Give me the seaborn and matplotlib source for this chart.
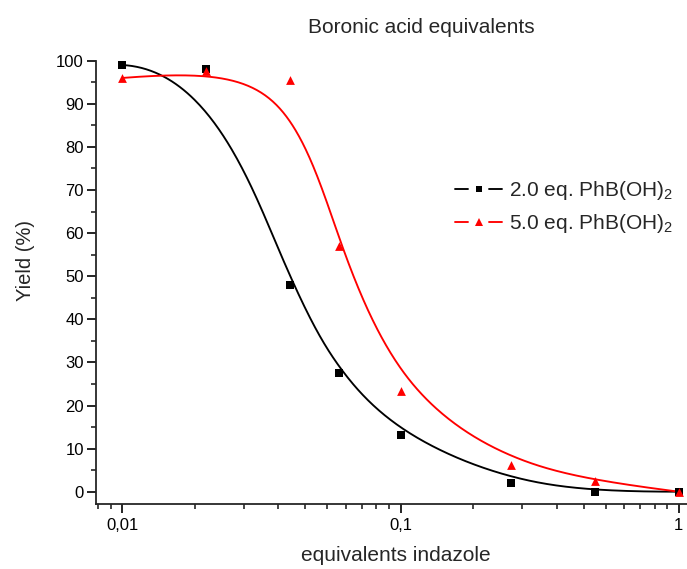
import numpy as np
import matplotlib
matplotlib.use("Agg")
import matplotlib.pyplot as plt
import seaborn as sns
from matplotlib.ticker import FixedLocator, FixedFormatter, MultipleLocator, NullFormatter
from matplotlib.lines import Line2D
from matplotlib.legend_handler import HandlerBase

# ---- data ----
equiv = [0.01, 0.02, 0.04, 0.06, 0.1, 0.25, 0.5, 1.0]
yield_2eq = [99.0, 98.0, 48.0, 27.5, 13.2, 2.1, 0.0, 0.0]
yield_5eq = [96.0, 97.5, 95.5, 57.0, 23.4, 6.2, 2.5, 0.0]
series_labels = ["2.0 eq. PhB(OH)$_2$", "5.0 eq. PhB(OH)$_2$"]
x_major_ticks = [0.01, 0.1, 1.0]
x_major_labels = ["0,01", "0,1", "1"]
x_minor_ticks = [0.0082, 0.0091, 0.0182, 0.0273, 0.0364, 0.0455, 0.0546, 0.0637,
                 0.0728, 0.0819, 0.091, 0.182, 0.273, 0.364, 0.455, 0.546, 0.637,
                 0.728, 0.819, 0.91]

sns.set_style("ticks")
plt.rcParams["font.family"] = ["Liberation Sans", "DejaVu Sans"]
plt.rcParams["mathtext.default"] = "regular"
plt.rcParams["axes.linewidth"] = 1.3


def bspline(xc, yc, n=500):
    """Clamped uniform cubic B-spline with the data as control points (log-x space)."""
    k = 3
    m = len(xc)
    t = np.concatenate([np.zeros(k), np.arange(m - k + 1), np.full(k, m - k)]).astype(float)
    u = np.linspace(0, m - k, n)
    B = np.zeros((len(t) - 1, n))
    for i in range(len(t) - 1):
        B[i] = (t[i] <= u) & (u < t[i + 1])
    last = np.where(t[:-1] < t[1:])[0][-1]
    B[last, u >= t[-1]] = 1.0
    for p in range(1, k + 1):
        Bn = np.zeros((len(t) - 1 - p, n))
        for i in range(len(t) - 1 - p):
            d1 = t[i + p] - t[i]
            d2 = t[i + p + 1] - t[i + 1]
            a = (u - t[i]) / d1 * B[i] if d1 > 0 else 0.0
            b = (t[i + p + 1] - u) / d2 * B[i + 1] if d2 > 0 else 0.0
            Bn[i] = a + b
        B = Bn
    lx = np.log10(np.asarray(xc, float))
    return 10 ** (B.T @ lx), B.T @ np.asarray(yc, float)


fig = plt.figure(figsize=(6.87, 5.69), dpi=100)
ax = fig.add_axes([0.1393, 0.1148, 0.8607, 0.7785])
ax.set_xscale("log")

colors = ["#000000", "#ff0000"]
markers = ["s", "^"]
msizes = [26, 40]
for ys, c, mk, s in zip([yield_2eq, yield_5eq], colors, markers, msizes):
    sx, sy = bspline(equiv, ys)
    sns.lineplot(x=sx, y=sy, ax=ax, color=c, lw=1.35, sort=False, estimator=None)
    sns.scatterplot(x=equiv, y=ys, ax=ax, color=c, marker=mk, s=s, linewidth=0,
                    clip_on=False, zorder=5)

ax.set_xlim(0.00802, 1.0707)
ax.set_ylim(-2.78, 100)
sns.despine(ax=ax)

ax.xaxis.set_major_locator(FixedLocator(x_major_ticks))
ax.xaxis.set_major_formatter(FixedFormatter(x_major_labels))
ax.xaxis.set_minor_locator(FixedLocator(x_minor_ticks))
ax.xaxis.set_minor_formatter(NullFormatter())
ax.yaxis.set_major_locator(MultipleLocator(10))
ax.yaxis.set_minor_locator(MultipleLocator(5))

ax.tick_params(axis="both", which="major", direction="out", length=6.5, width=1.2,
               labelsize=12, colors="black")
ax.tick_params(axis="both", which="minor", direction="out", length=3.6, width=1.2)
ax.tick_params(axis="y", which="major", pad=2)
ax.tick_params(axis="x", which="major", pad=4)

ax.set_xlabel("equivalents indazole", fontsize=15, va="baseline")
ax.xaxis.set_label_coords(0.508, -0.1293)
ax.set_ylabel("Yield (%)", fontsize=14.5, va="baseline")
ax.yaxis.set_label_coords(-0.109, 0.548)

fig.text(421 / 687, 1 - 33 / 569, "Boronic acid equivalents", fontsize=15,
         ha="center", va="baseline")


class SplitLineHandler(HandlerBase):
    def __init__(self, color, marker, ms, **kw):
        super().__init__(**kw)
        self.color, self.marker, self.ms = color, marker, ms

    def create_artists(self, legend, orig_handle, xdescent, ydescent, width, height,
                       fontsize, trans):
        y = height / 2 - ydescent
        x0 = -xdescent
        gap = 0.22 * width
        l1 = Line2D([x0, x0 + width / 2 - gap], [y, y], color=self.color, lw=1.35)
        l2 = Line2D([x0 + width / 2 + gap, x0 + width], [y, y], color=self.color, lw=1.35)
        m = Line2D([x0 + width / 2], [y], marker=self.marker, ms=self.ms, color=self.color,
                   mew=0, ls="none")
        for a in (l1, l2, m):
            a.set_transform(trans)
        return [l1, l2, m]


h1 = Line2D([], [], color=colors[0])
h2 = Line2D([], [], color=colors[1])
ax.legend([h1, h2], series_labels, loc="upper left",
          bbox_to_anchor=(455 / 687, 1 - 179 / 569), bbox_transform=fig.transFigure,
          frameon=False, fontsize=15, borderpad=0, borderaxespad=0,
          handlelength=2.26, handletextpad=0.34, labelspacing=0.5,
          handler_map={h1: SplitLineHandler(colors[0], "s", 4.5),
                       h2: SplitLineHandler(colors[1], "^", 5.5)})

fig.savefig("out.png", dpi=100)
